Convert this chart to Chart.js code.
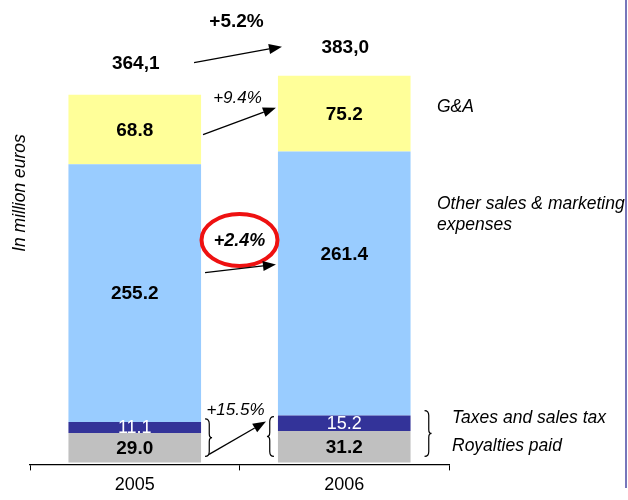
<!DOCTYPE html>
<html>
<head>
<meta charset="utf-8">
<script src="https://cdn.jsdelivr.net/npm/chart.js@4.4.0/dist/chart.umd.min.js"></script>
<style>
  html, body { margin: 0; padding: 0; background: #fff; }
  #wrap { width: 628px; height: 500px; position: relative; }
</style>
</head>
<body>
<div id="wrap"><canvas id="chart" width="628" height="500"></canvas></div>
<script>
var years = ["2005", "2006"];
var royalties = [29.0, 31.2];
var taxes = [11.1, 15.2];
var otherSales = [255.2, 261.4];
var gna = [68.8, 75.2];
var totalLabels = ["364,1", "383,0"];
var growth = { total: "+5.2%", gna: "+9.4%", other: "+2.4%", low: "+15.5%" };

var FONT = "Arial, 'Liberation Sans', sans-serif";

function arrow(ctx, x1, y1, x2, y2) {
	var a = Math.atan2(y2 - y1, x2 - x1);
	var hl = 13, hw = 5;
	ctx.strokeStyle = "#000";
	ctx.fillStyle = "#000";
	ctx.lineWidth = 1.3;
	ctx.beginPath();
	ctx.moveTo(x1, y1);
	ctx.lineTo(x2 - hl * Math.cos(a), y2 - hl * Math.sin(a));
	ctx.stroke();
	ctx.beginPath();
	ctx.moveTo(x2, y2);
	ctx.lineTo(x2 - hl * Math.cos(a) + hw * Math.sin(a), y2 - hl * Math.sin(a) - hw * Math.cos(a));
	ctx.lineTo(x2 - hl * Math.cos(a) - hw * Math.sin(a), y2 - hl * Math.sin(a) + hw * Math.cos(a));
	ctx.closePath();
	ctx.fill();
}

// dir = 1 draws "}", dir = -1 draws "{"
function brace(ctx, x, y1, y2, dir) {
	var w = 7 * dir, m = (y1 + y2) / 2;
	ctx.strokeStyle = "#000";
	ctx.lineWidth = 1.2;
	ctx.beginPath();
	ctx.moveTo(x, y1);
	ctx.quadraticCurveTo(x + w * 0.6, y1, x + w * 0.6, y1 + 5);
	ctx.lineTo(x + w * 0.6, m - 4);
	ctx.quadraticCurveTo(x + w * 0.6, m, x + w, m);
	ctx.quadraticCurveTo(x + w * 0.6, m, x + w * 0.6, m + 4);
	ctx.lineTo(x + w * 0.6, y2 - 5);
	ctx.quadraticCurveTo(x + w * 0.6, y2, x, y2);
	ctx.stroke();
}

var notes = {
	id: "notes",
	afterDatasetsDraw: function (chart) {
		var ctx = chart.ctx;
		var y = chart.scales.y;
		ctx.save();
		ctx.textAlign = "center";
		ctx.textBaseline = "middle";

		// values inside segments
		chart.data.datasets.forEach(function (ds, i) {
			var meta = chart.getDatasetMeta(i);
			meta.data.forEach(function (bar, idx) {
				var cy = (bar.y + bar.base) / 2;
				if (i === 2 && idx === 1) cy -= 30;
				if (i === 1) {
					ctx.font = "18px " + FONT;
					ctx.fillStyle = "#fff";
				} else {
					ctx.font = "bold 19px " + FONT;
					ctx.fillStyle = "#000";
				}
				ctx.fillText(ds.data[idx].toFixed(1), bar.x, cy + 1);
			});
		});

		var b0 = chart.getDatasetMeta(3).data[0];
		var b1 = chart.getDatasetMeta(3).data[1];
		var r0 = b0.x + b0.width / 2;
		var l1 = b1.x - b1.width / 2, r1 = b1.x + b1.width / 2;
		var mid = (r0 + l1) / 2;

		// totals
		ctx.font = "bold 19px " + FONT;
		ctx.fillStyle = "#000";
		ctx.fillText(totalLabels[0], b0.x + 1, b0.y - 31);
		ctx.fillText(totalLabels[1], b1.x + 1, b1.y - 28);
		ctx.fillText(growth.total, mid - 3, 22);
		arrow(ctx, r0 - 7, b0.y - 32, l1 + 4, b1.y - 29);

		// G&A
		ctx.font = "italic 17px " + FONT;
		ctx.fillText(growth.gna, mid - 2, 98);
		arrow(ctx, r0 + 2, b0.y + 40, l1 - 2, b1.y + 32);

		// other sales
		var cx = mid, cy = 240;
		ctx.strokeStyle = "#ee1111";
		ctx.lineWidth = 4;
		ctx.beginPath();
		ctx.ellipse(cx, cy, 38, 26, 0, 0, Math.PI * 2);
		ctx.stroke();
		ctx.font = "bold italic 18px " + FONT;
		ctx.fillStyle = "#000";
		ctx.fillText(growth.other, cx, cy + 1);
		arrow(ctx, r0 + 4, y.getPixelForValue(188), l1 - 2, y.getPixelForValue(196));

		// royalties + taxes
		var top0 = y.getPixelForValue(royalties[0] + taxes[0]);
		var top1 = y.getPixelForValue(royalties[1] + taxes[1]);
		var base = y.getPixelForValue(0);
		ctx.font = "italic 17px " + FONT;
		ctx.fillText(growth.low, mid - 4, 410);
		brace(ctx, r0 + 4, top0 - 3, base - 6, 1);
		brace(ctx, l1 - 4, top1 + 1, base - 6, -1);
		arrow(ctx, r0 + 8, base - 8, l1 - 12, top1 + 6);
		brace(ctx, r1 + 14, top1 - 5, base - 6, 1);

		// series names on the right
		ctx.textAlign = "left";
		ctx.font = "italic 17.5px " + FONT;
		ctx.fillText("G&A", 437, 107);
		ctx.fillText("Other sales & marketing", 437, 204);
		ctx.fillText("expenses", 437, 225);
		ctx.fillText("Taxes and sales tax", 452, 418);
		ctx.fillText("Royalties paid", 452, 446);

		// axis title
		ctx.save();
		ctx.translate(20, 193);
		ctx.rotate(-Math.PI / 2);
		ctx.textAlign = "center";
		ctx.font = "italic 17.5px " + FONT;
		ctx.fillText("In million euros", 0, 0);
		ctx.restore();

		// slide frame line
		ctx.strokeStyle = "#7777bb";
		ctx.lineWidth = 2;
		ctx.beginPath();
		ctx.moveTo(626, 0);
		ctx.lineTo(626, 488);
		ctx.stroke();
		ctx.restore();
	}
};

new Chart(document.getElementById("chart"), {
	type: "bar",
	data: {
		labels: years,
		datasets: [
			{ label: "Royalties paid", data: royalties, backgroundColor: "#c0c0c0" },
			{ label: "Taxes and sales tax", data: taxes, backgroundColor: "#333399" },
			{ label: "Other sales & marketing expenses", data: otherSales, backgroundColor: "#99ccff" },
			{ label: "G&A", data: gna, backgroundColor: "#ffff99" }
		]
	},
	options: {
		responsive: false,
		animation: false,
		events: [],
		layout: { padding: { left: 30, right: 179, top: 10, bottom: 0 } },
		datasets: { bar: { categoryPercentage: 1, barPercentage: 0.633 } },
		plugins: { legend: { display: false }, tooltip: { enabled: false } },
		scales: {
			x: {
				stacked: true,
				grid: { offset: true, drawOnChartArea: false, color: "#000", tickLength: 6 },
				border: { color: "#000", width: 1.3 },
				ticks: { color: "#000", font: { family: FONT, size: 18 }, padding: 4 }
			},
			y: { stacked: true, display: false, min: -2, max: 448 }
		}
	},
	plugins: [notes]
});
</script>
</body>
</html>
